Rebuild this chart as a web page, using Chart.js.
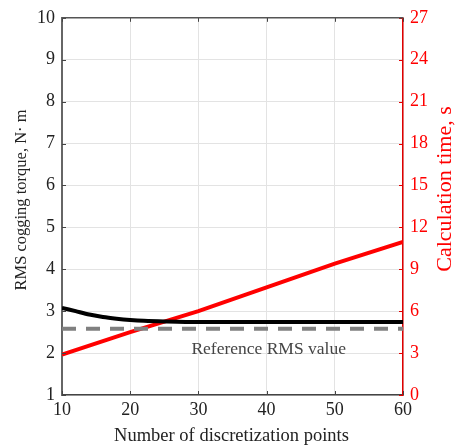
<!DOCTYPE html>
<html>
<head>
<meta charset="utf-8">
<script src="https://cdn.jsdelivr.net/npm/chart.js@4.4.1/dist/chart.umd.min.js"></script>
<style>
  html, body { margin: 0; padding: 0; background: #fff; }
  #wrap { width: 461px; height: 447px; }
</style>
</head>
<body>
<div id="wrap"><canvas id="c"></canvas></div>
<script>
// ------------------------------------------------------------
// DATA
// ------------------------------------------------------------
const torqueX = [10, 12, 14, 16, 18, 20, 22, 25, 30, 40, 50, 60];
const torqueY = [3.08, 3.0, 2.92, 2.86, 2.82, 2.79, 2.77, 2.755, 2.74, 2.74, 2.74, 2.74];
const timeX = [10, 20, 30, 40, 50, 60];
const timeY = [2.9, 4.5, 6.0, 7.7, 9.4, 10.95];
const refX = [10, 60];
const refY = [2.58, 2.58];
const refLabel = "Reference RMS value";
const xTitle = "Number of discretization points";
const yTitle = "RMS cogging torque, N· m";
const y2Title = "Calculation time, s";

const FONT = "'Liberation Serif', 'Times New Roman', serif";
const toPts = (xs, ys) => xs.map((x, i) => ({ x, y: ys[i] }));

// axis titles, inward ticks, top border, annotation
const extras = {
  id: "extras",
  afterDraw(chart) {
    const { ctx, chartArea: a, scales } = chart;
    ctx.save();

    // inward ticks (MATLAB style)
    ctx.lineWidth = 1;
    ctx.strokeStyle = "#e00000";
    scales.y2.ticks.forEach(t => {
      const py = Math.round(scales.y2.getPixelForValue(t.value)) + 0.5;
      ctx.beginPath();
      ctx.moveTo(a.right, py);
      ctx.lineTo(a.right - 4, py);
      ctx.stroke();
    });
    ctx.strokeStyle = "#444";
    scales.y.ticks.forEach(t => {
      const py = Math.round(scales.y.getPixelForValue(t.value)) + 0.5;
      ctx.beginPath();
      ctx.moveTo(a.left, py);
      ctx.lineTo(a.left + 4, py);
      ctx.stroke();
    });
    scales.x.ticks.forEach(t => {
      const px = Math.round(scales.x.getPixelForValue(t.value)) + 0.5;
      ctx.beginPath();
      ctx.moveTo(px, a.bottom);
      ctx.lineTo(px, a.bottom - 4);
      ctx.moveTo(px, a.top);
      ctx.lineTo(px, a.top + 4);
      ctx.stroke();
    });

    // top border
    ctx.strokeStyle = "#555";
    ctx.lineWidth = 1.5;
    ctx.beginPath();
    ctx.moveTo(a.left, a.top);
    ctx.lineTo(a.right, a.top);
    ctx.stroke();

    ctx.textAlign = "center";
    ctx.textBaseline = "middle";

    ctx.fillStyle = "#444";
    ctx.font = "17.5px " + FONT;
    ctx.fillText(refLabel, scales.x.getPixelForValue(40.3), scales.y.getPixelForValue(2.08));

    ctx.fillStyle = "#222";
    ctx.font = "18.5px " + FONT;
    ctx.fillText(xTitle, (a.left + a.right) / 2 - 1, 436);

    ctx.save();
    ctx.translate(22, 200);
    ctx.rotate(-Math.PI / 2);
    ctx.font = "16.5px " + FONT;
    ctx.fillText(yTitle, 0, 0);
    ctx.restore();

    ctx.save();
    ctx.translate(445, 189);
    ctx.rotate(-Math.PI / 2);
    ctx.fillStyle = "#ff0000";
    ctx.font = "22px " + FONT;
    ctx.fillText(y2Title, 0, 0);
    ctx.restore();

    ctx.restore();
  }
};

new Chart(document.getElementById("c"), {
  type: "line",
  data: {
    datasets: [
      {
        data: toPts(refX, refY),
        borderColor: "#808080",
        borderWidth: 4,
        borderDash: [14, 10],
        pointRadius: 0,
        yAxisID: "y"
      },
      {
        data: toPts(torqueX, torqueY),
        borderColor: "#000",
        borderWidth: 4,
        tension: 0.3,
        pointRadius: 0,
        yAxisID: "y"
      },
      {
        data: toPts(timeX, timeY),
        borderColor: "#ff0000",
        borderWidth: 4,
        pointRadius: 0,
        yAxisID: "y2"
      }
    ]
  },
  options: {
    responsive: true,
    maintainAspectRatio: false,
    animation: false,
    layout: { padding: { top: 15, left: 0, right: 0, bottom: 0 } },
    plugins: { legend: { display: false }, tooltip: { enabled: false } },
    scales: {
      x: {
        type: "linear",
        min: 10,
        max: 60,
        ticks: { stepSize: 10, color: "#222", font: { family: FONT, size: 18 }, padding: 4 },
        grid: { color: "#e3e3e3", drawTicks: false },
        border: { color: "#444", width: 1.5 },
        afterFit: s => { s.height = 52; }
      },
      y: {
        position: "left",
        min: 1,
        max: 10,
        ticks: { stepSize: 1, color: "#222", font: { family: FONT, size: 18 }, padding: 7 },
        grid: { color: "#e3e3e3", drawTicks: false },
        border: { color: "#666", width: 2 },
        afterFit: s => { s.width = 62; }
      },
      y2: {
        position: "right",
        min: 0,
        max: 27,
        ticks: { stepSize: 3, color: "#ff0000", font: { family: FONT, size: 18 }, padding: 7 },
        grid: { display: false, drawTicks: false },
        border: { color: "#e00000", width: 1.5 },
        afterFit: s => { s.width = 58; }
      }
    }
  },
  plugins: [extras]
});
</script>
</body>
</html>
